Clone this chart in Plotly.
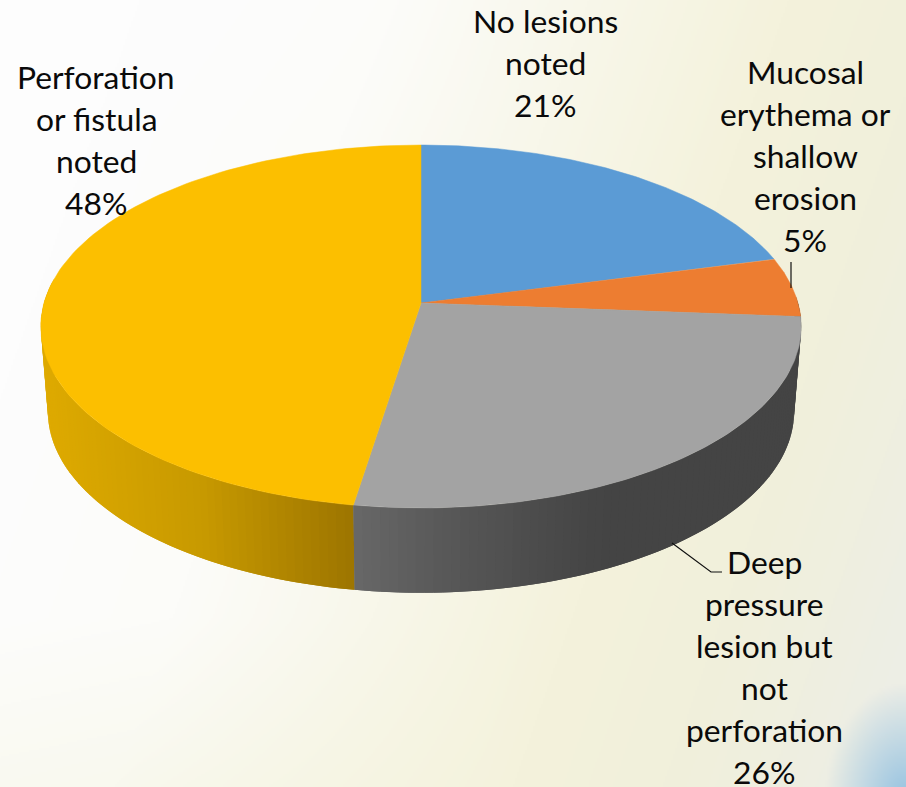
import base64, struct, zlib
import numpy as np
import plotly.graph_objects as go

# Data
categories = ["No lesions|noted", "Mucosal|erythema or|shallow|erosion",
              "Deep|pressure|lesion but|not|perforation", "Perforation|or fistula|noted"]
values = [20.9, 5.3, 26.3, 47.5]
shown_pct = ["21%", "5%", "26%", "48%"]
colors = ["#5b9bd5", "#ed7d31", "#a3a3a3", "#fcbf00"]
label_x = [545, 805, 764, 96]
label_first_y = [21, 72, 562, 77]
LINE_H = 42

W, H = 906, 787
CX = 421
PERSP = 0.1295
TOP = dict(R=377.0, a=-139.2, b=303.0)
BOT = dict(R=370.0, a=-128.0, b=388.0)


def project(theta, g):
    u, v = np.sin(theta), np.cos(theta)
    d = 1 + PERSP * v
    return CX + g["R"] * u / d, (g["a"] * v + g["b"]) / d


def background_png():
    w, h = 453, 394
    xs, ys = np.meshgrid(np.linspace(0, 906, w), np.linspace(0, 787, h))
    t = np.clip(xs + 0.35 * (ys - 400), 0, 1000)
    stops = [0, 250, 450, 650, 800, 906, 1000]
    r = np.interp(t, stops, [253, 252, 248, 244, 241, 239, 237])
    g = np.interp(t, stops, [253, 252, 247, 242, 240, 239, 238])
    b = np.interp(t, stops, [253, 249, 234, 220, 219, 224, 230])
    # pale fade on the upper left
    top = np.clip((140 - ys) / 140, 0, 1) * np.clip((500 - xs) / 400, 0, 1)
    r, g, b = [c + (253 - c) * top * 0.7 for c in (r, g, b)]
    # warmer band along the lower left
    low = np.clip((ys - 620) / 167, 0, 1) * np.clip((350 - xs) / 350 + 0.4, 0, 1)
    r, g, b = r - 3 * low, g - 3 * low, b - 10 * low
    # blue glow in the lower right corner
    dist = np.hypot((xs - 906) / 80, (ys - 800) / 115)
    glow = np.clip(1 - dist, 0, 1) ** 1.0
    r = r + (150 - r) * glow
    g = g + (195 - g) * glow
    b = b + (225 - b) * glow
    img = np.dstack([r, g, b]).astype(np.uint8)
    raw = b"".join(b"\x00" + img[i].tobytes() for i in range(h))

    def chunk(tag, data):
        return struct.pack(">I", len(data)) + tag + data + struct.pack(">I", zlib.crc32(tag + data))

    png = (b"\x89PNG\r\n\x1a\n" + chunk(b"IHDR", struct.pack(">IIBBBBB", w, h, 8, 2, 0, 0, 0))
           + chunk(b"IDAT", zlib.compress(raw, 9)) + chunk(b"IEND", b""))
    return "data:image/png;base64," + base64.b64encode(png).decode()


fracs = np.array(values) / sum(values)
edges = np.concatenate([[0], np.cumsum(fracs)]) * 2 * np.pi


def wall_color(i, x):
    if i == 2:
        v = np.interp(x, [352, 450, 540, 610, 800], [104, 88, 76, 68, 68])
        return "rgb(%d,%d,%d)" % (v, v, v)
    r = np.interp(x, [45, 200, 350], [222, 200, 158])
    g = np.interp(x, [45, 200, 350], [170, 154, 118])
    return "rgb(%d,%d,0)" % (r, g)


fig = go.Figure()

# Side wall, split into thin overlapping strips painted from the outside in
for i in (3, 2):
    a0, a1 = edges[i], edges[i + 1]
    if i == 2:
        a0 = np.radians(88)
    if i == 3:
        a1 = np.radians(278)
    steps = np.linspace(a0, a1, int((a1 - a0) / np.radians(1.2)) + 2)
    pairs = list(zip(steps[:-1], steps[1:]))
    if i == 3:
        pairs = pairs[::-1]
    delta = steps[1] - steps[0]
    for s0, s1 in pairs:
        lo = s0 if i == 2 else max(a0, s0 - delta)
        hi = min(a1, s1 + delta) if i == 2 else s1
        th = np.array([lo, hi])
        xt, yt = project(th, TOP)
        xb, yb = project(th, BOT)
        xm = float(project(np.array([(s0 + s1) / 2]), TOP)[0][0])
        col = wall_color(i, xm)
        fig.add_trace(go.Scatter(
            x=[xt[0], xt[1], xb[1], xb[0], xt[0]],
            y=[yt[0], yt[1], yb[1], yb[0], yt[0]],
            mode="lines", fill="toself", fillcolor=col,
            line=dict(width=0), hoverinfo="skip", showlegend=False))

# Top face
apex_x, apex_y = CX, TOP["b"]
for i, name in enumerate(categories):
    th = np.linspace(edges[i], edges[i + 1], 120)
    xs, ys = project(th, TOP)
    fig.add_trace(go.Scatter(
        x=np.r_[apex_x, xs, apex_x], y=np.r_[apex_y, ys, apex_y],
        mode="lines", fill="toself", fillcolor=colors[i],
        line=dict(color=colors[i], width=0.5),
        name=name.replace("|", " "), hoverinfo="name", showlegend=False))

# Leader lines
leader_x = [[791, 791], [672, 711, 722]]
leader_y = [[262, 288], [543, 572, 572]]
for lx, ly in zip(leader_x, leader_y):
    fig.add_trace(go.Scatter(x=lx, y=ly, mode="lines", line=dict(color="#111111", width=1.2),
                             hoverinfo="skip", showlegend=False))

# Labels, one annotation per line for the exact leading
for name, pct, x, y0 in zip(categories, shown_pct, label_x, label_first_y):
    for k, line in enumerate(name.split("|") + [pct]):
        fig.add_annotation(x=x, y=y0 + k * LINE_H, text=line, showarrow=False,
                           xanchor="center", yanchor="middle",
                           font=dict(family="Lato", size=31.8, color="#0a0a0a"))

fig.update_layout(
    width=W, height=H, margin=dict(l=0, r=0, t=0, b=0),
    paper_bgcolor="#fdfdfd", plot_bgcolor="rgba(0,0,0,0)", showlegend=False,
    xaxis=dict(range=[0, W], visible=False, fixedrange=True),
    yaxis=dict(range=[H, 0], visible=False, fixedrange=True),
    images=[dict(source=background_png(), xref="paper", yref="paper", x=0, y=1,
                 sizex=1, sizey=1, sizing="stretch", layer="below", xanchor="left", yanchor="top")],
)
fig.write_html("out.html", config={"displayModeBar": False},
               post_script="document.body.style.margin='0';document.documentElement.style.overflow='hidden';")
